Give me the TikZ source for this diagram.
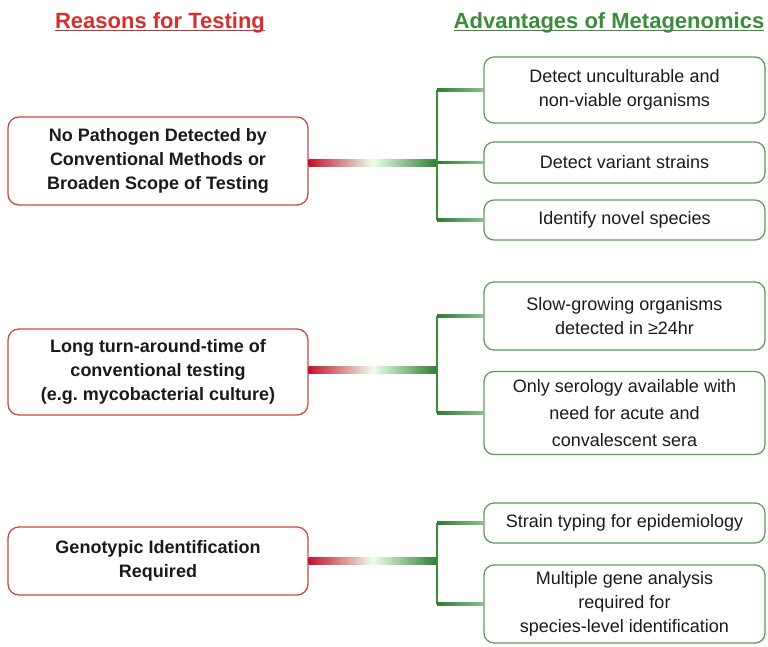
\documentclass[tikz,border=0pt]{standalone}
\usepackage{fontspec}
\setmainfont{Liberation Sans}
\frenchspacing
\usetikzlibrary{calc}
\definecolor{hred}{HTML}{D2312E}
\definecolor{hgreen}{HTML}{3C8C3C}
\definecolor{bred}{HTML}{C94A44}
\definecolor{bgreen}{HTML}{5E9E5A}
\definecolor{gdark}{HTML}{2E7D32}
\definecolor{glight}{HTML}{8CC08A}
\definecolor{rbar}{HTML}{C8102E}
\definecolor{txt}{HTML}{1A1A1A}
\tikzset{
  reason/.style={draw=bred, line width=1.3pt, rounded corners=11pt, minimum width=300pt, align=center, font=\fontsize{18}{24}\selectfont\bfseries, text=txt, inner sep=0pt},
  adv/.style={draw=bgreen, line width=1.3pt, rounded corners=10pt, minimum width=281pt, align=center, font=\fontsize{18}{24}\selectfont, text=txt, inner sep=0pt},
  vline/.style={draw=hgreen, line width=2pt},
  header/.style={font=\fontsize{22}{24}\selectfont\bfseries, inner sep=0pt}
}
\begin{document}
\begin{tikzpicture}[x=1pt,y=-1pt]
\useasboundingbox (0,0) rectangle (768,646);
% headers
\node[header, text=hred, anchor=base] (h1) at (160,28) {Reasons for Testing};
\node[header, text=hgreen, anchor=base] (h2) at (609,28) {Advantages of Metagenomics};
\draw[hred, line width=1.6pt] ([yshift=-2.5pt]h1.base west) -- ([yshift=-2.5pt]h1.base east);
\draw[hgreen, line width=1.6pt] ([yshift=-2.5pt]h2.base west) -- ([yshift=-2.5pt]h2.base east);
% left boxes
\node[reason, minimum height=88pt] (r1) at (158,161) {No Pathogen Detected by\\Conventional Methods or\\Broaden Scope of Testing};
\node[reason, minimum height=86pt] (r2) at (158,372) {Long turn-around-time of\\conventional testing\\(e.g. mycobacterial culture)};
\node[reason, minimum height=68pt] (r3) at (158,561) {Genotypic Identification\\Required};
% right boxes
\node[adv, minimum height=66pt] (a) at (624.5,90) {Detect unculturable and\\non-viable organisms};
\node[adv, minimum height=41pt] (b) at (624.5,162.5) {Detect variant strains};
\node[adv, minimum height=40pt] (c) at (624.5,220) {Identify novel species};
\node[adv, minimum height=68pt] (d) at (624.5,316) {Slow-growing organisms\\detected in ≥24hr};
\node[adv, minimum height=83pt, font=\fontsize{18}{27}\selectfont] (e) at (624.5,413) {Only serology available with\\need for acute and\\convalescent sera};
\node[adv, minimum height=40pt] (f) at (624.5,523) {Strain typing for epidemiology};
\node[adv, minimum height=78pt] (g) at (624.5,604) {Multiple gene analysis\\required for\\species-level identification};
% junctions
\coordinate (j1) at (437,163);
\coordinate (j2) at (437,370);
\coordinate (j3) at (437,561);
% gradient bars
\foreach \r/\j in {r1/j1,r2/j2,r3/j3}{
  \shade[left color=rbar, right color=gdark, middle color=white!92!green] ([yshift=3.5pt]\r.east |- \j) rectangle ([yshift=-3.5pt]\j);
}
% verticals
\draw[vline] (j1 |- a.west) -- (j1 |- c.west);
\draw[vline] (j2 |- d.west) -- (j2 |- e.west);
\draw[vline] (j3 |- f.west) -- (j3 |- g.west);
% branches
\foreach \j/\n in {j1/a,j1/b,j1/c,j2/d,j2/e,j3/f,j3/g}{
  \shade[left color=gdark, right color=glight] ([yshift=1.4pt]\j |- \n.west) rectangle ([yshift=-1.4pt]\n.west);
}
\end{tikzpicture}
\end{document}
